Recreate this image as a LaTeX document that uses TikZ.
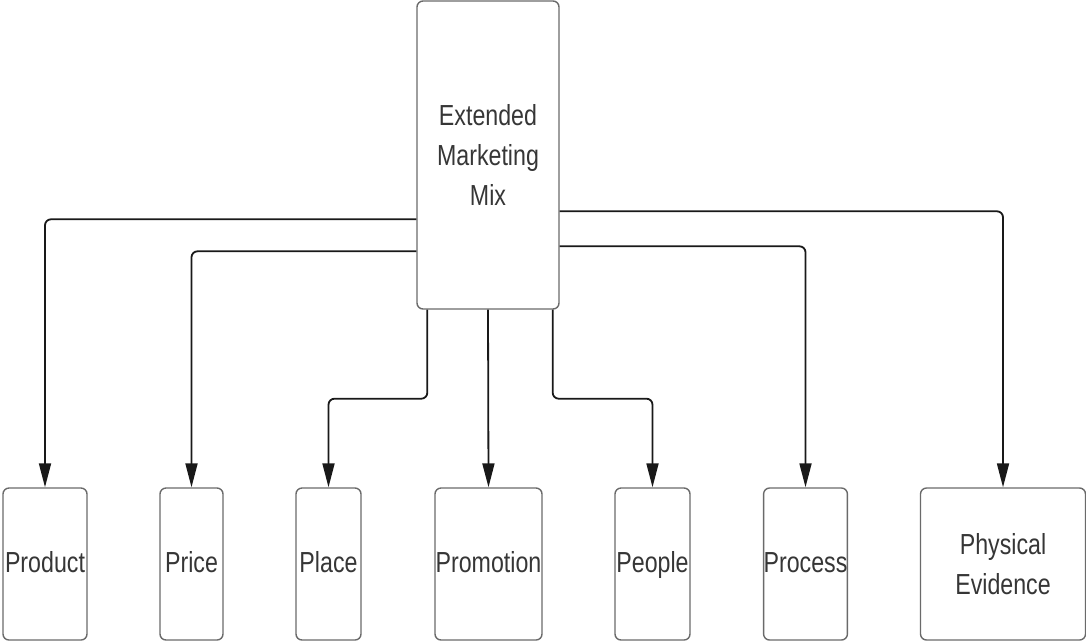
\documentclass[tikz,border=0pt]{standalone}
\usepackage{fontspec}
\newfontfamily\mixfont[FakeStretch=0.8]{Liberation Sans}
\usetikzlibrary{arrows.meta}
\definecolor{boxgray}{HTML}{6A6A6A}
\definecolor{txtgray}{HTML}{363636}

\begin{document}
\begin{tikzpicture}[x=1pt,y=-1pt,
      every node/.style={draw=boxgray,line width=1.4pt,rounded corners=6pt,
        font=\mixfont\fontsize{29}{40}\selectfont,text=txtgray,
        align=center,inner sep=0pt},
      leaf/.style={minimum height=152pt},
      oneline/.style={leaf,text height=22pt,text depth=6pt},
      link/.style={draw=black!90,line width=1.8pt,rounded corners=6pt,
        -{Triangle[length=24pt,width=12pt]}}]
    \useasboundingbox (0,0) rectangle (1086,641);
    % top box
    \node[minimum width=142pt,minimum height=308pt] (mix) at (488,155)
        {Extended\\Marketing\\Mix};
    % the seven P's
    \node[oneline,minimum width=84pt] (product) at (45,564) {Product};
    \node[oneline,minimum width=63pt] (price) at (191.5,564) {Price};
    \node[oneline,minimum width=65pt] (place) at (328.5,564) {Place};
    \node[oneline,minimum width=107pt] (promotion) at (488.5,564) {Promotion};
    \node[oneline,minimum width=75pt] (people) at (652.5,564) {People};
    \node[oneline,minimum width=83pt] (process) at (805.5,564) {Process};
    \node[leaf,minimum width=165pt] (evidence) at (1003,564) {Physical\\Evidence};
    % connectors
    \draw[link] ([yshift=-219pt]mix.north west) -| (product.north);
    \draw[link] ([yshift=-251pt]mix.north west) -| (price.north);
    \draw[link] ([xshift=11pt]mix.south west) -- ++(0,89) -| (place.north);
    \draw[link] (mix.south) -- (promotion.north);
    \draw[link] ([xshift=-7pt]mix.south east) -- ++(0,89) -| (people.north);
    \draw[link] ([yshift=-246pt]mix.north east) -| (process.north);
    \draw[link] ([yshift=-211pt]mix.north east) -| (evidence.north);
  \end{tikzpicture}
\end{document}
